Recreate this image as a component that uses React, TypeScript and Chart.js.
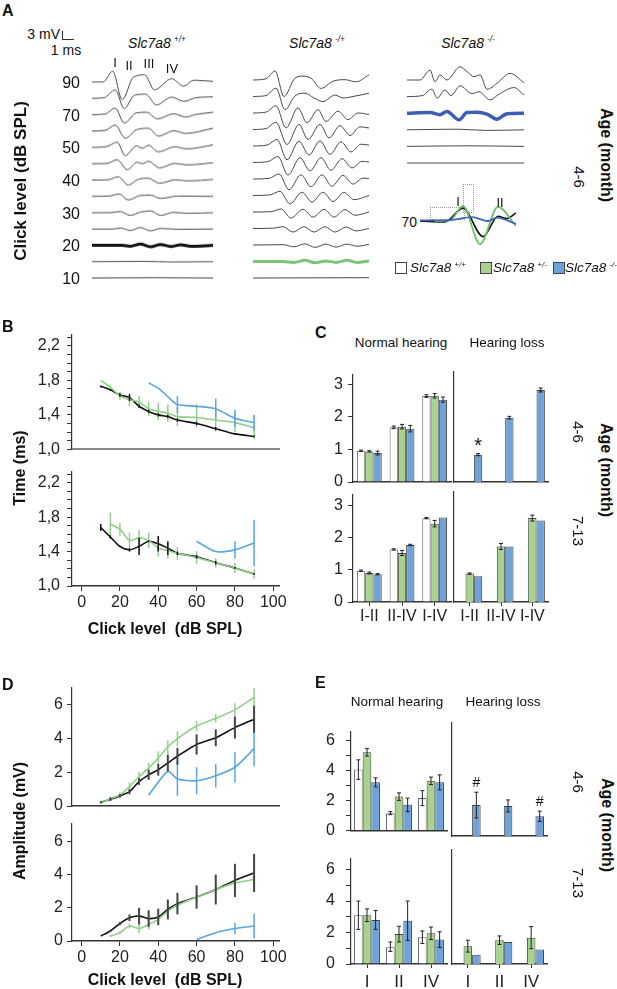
import React, { useEffect, useRef } from 'react';
import { Chart, registerables } from 'chart.js';
Chart.register(...registerables);

const FONT = '"Liberation Sans", Arial, Helvetica, sans-serif';

// ---------------- Panel A : ABR waveforms (time ms, amplitude mV) ----------------
const A_LEVELS_WT = [90, 80, 70, 60, 50, 45, 40, 35, 30, 25, 20, 15, 10];
const A_WAVES_WT = [
  [[0, 0], [1.1, 0], [2.05, 3.6], [3.0, -5.9], [4.1, 1.6], [5.2, 2.4], [6.2, -2.6], [7.9, 1.1], [9.1, -1.4], [10.1, 0.6], [12, 0.2]],
  [[0, 0], [1.2, 0.2], [2.3, 2.8], [3.2, -3.4], [4.2, 1.0], [5.3, 1.4], [6.4, -2.2], [7.9, 0.4], [9.1, -1.0], [10.3, 0.2], [12, 0.5]],
  [[0, 0], [1.3, 0.2], [2.3, 2.2], [3.2, -2.8], [4.4, 0.6], [5.4, 0.8], [6.5, -1.4], [8.1, 0.3], [9.3, -0.8], [10.2, 0], [12, 0.8]],
  [[0, 0], [1.3, 0.2], [2.3, 2.0], [3.3, -2.4], [4.4, 0.4], [5.6, 0.9], [6.6, -1.7], [8.1, 0.1], [9.3, -0.8], [12, 0.9]],
  [[0, 0], [1.4, 0.2], [2.5, 1.7], [3.3, -2.8], [4.4, 0.5], [5.0, -0.3], [5.6, 0.7], [6.6, -1.5], [8.2, 0.2], [9.4, -0.5], [12, 0.8]],
  [[0, 0], [1.5, 0.1], [2.5, 1.3], [3.5, -2.0], [4.5, 0.5], [5.0, 0], [5.6, 0.8], [6.7, -1.4], [8.2, 0.1], [9.4, -0.4], [12, 0.3]],
  [[0, 0], [1.6, 0.1], [2.6, 1.1], [3.6, -1.7], [4.6, 0.3], [5.6, 0.6], [6.7, -1.1], [8.3, 0.1], [9.5, -0.3], [12, 0.2]],
  [[0, 0], [1.7, 0.1], [2.7, 0.8], [3.6, -1.2], [4.8, 0.3], [5.8, 0.4], [6.8, -0.7], [8.5, 0.1], [12, 0]],
  [[0, 0], [1.8, 0], [2.8, 0.4], [3.8, -0.9], [4.8, 0.2], [5.8, 0.6], [6.8, -0.9], [8.1, 0.1], [9.5, -0.2], [12, 0]],
  [[0, 0], [2, 0], [2.9, 0.3], [3.8, -0.5], [4.8, 0.5], [5.8, -0.6], [6.8, 0.2], [8.5, -0.1], [12, 0]],
  [[0, 0], [3, 0], [3.8, -0.3], [4.8, 0.4], [5.8, -0.5], [6.8, 0.3], [7.8, -0.4], [8.8, 0.2], [9.8, -0.3], [12, 0]],
  [[0, 0], [5, 0.1], [8, -0.1], [12, 0]],
  [[0, 0], [6, 0.1], [12, 0]],
];
const A_THRESH_WT = 20;

const A_LEVELS_HET = [90, 80, 70, 60, 50, 45, 40, 35, 30, 25, 20, 15, 10];
const A_WAVES_HET = [
  [[0, 0], [1.3, 0.4], [2.2, 3.0], [3.1, -5.5], [4.2, 0.6], [5.0, 1.3], [5.8, 0.6], [6.8, -2.8], [8.0, -0.4], [9.2, 0.1], [10.3, -0.6], [11.6, 1.7]],
  [[0, 0], [1.3, 0.3], [2.3, 2.8], [3.2, -4.4], [4.2, 0.2], [5.2, 1.1], [6.1, -0.5], [7.0, -1.7], [8.2, 0.5], [9.0, -0.5], [10.0, 0], [11.6, 1.1]],
  [[0, 0], [1.3, 0.3], [2.3, 2.4], [3.3, -5.0], [4.5, 1.7], [5.4, -3.3], [6.5, 1.1], [7.3, -2.8], [8.5, 0.6], [9.5, -2.2], [10.5, 0], [11.6, -0.5]],
  [[0, 0], [1.3, 0.3], [2.3, 2.4], [3.4, -5.0], [4.6, 1.7], [5.5, -3.3], [6.7, 1.7], [7.6, -2.8], [8.7, 1.3], [9.7, -2.0], [10.7, 0.9], [11.6, 0.5]],
  [[0, 0], [1.4, 0.3], [2.4, 2.2], [3.4, -4.6], [4.6, 1.6], [5.6, -3.0], [6.7, 1.7], [7.7, -2.8], [8.8, 1.4], [9.8, -2.0], [10.8, 0.6], [11.6, 0.3]],
  [[0, 0], [1.5, 0.3], [2.5, 2.0], [3.5, -4.2], [4.7, 1.6], [5.7, -2.8], [6.8, 1.6], [7.8, -2.6], [8.9, 1.3], [9.9, -1.8], [10.9, 0.4], [11.6, 0.2]],
  [[0, 0], [1.6, 0.2], [2.6, 1.7], [3.6, -3.6], [4.8, 1.4], [5.8, -2.6], [6.9, 1.4], [7.9, -2.4], [9.0, 1.2], [10.0, -1.7], [11.0, 0.3], [11.6, 0.1]],
  [[0, 0], [1.7, 0.2], [2.7, 1.4], [3.7, -2.8], [4.9, 1.1], [5.9, -2.2], [7.0, 1.1], [8.0, -2.0], [9.1, 1.0], [10.1, -1.4], [11.6, 0]],
  [[0, 0], [1.8, 0.1], [2.8, 1.0], [3.8, -2.0], [5.0, 0.9], [6.0, -1.7], [7.1, 0.9], [8.1, -1.7], [9.2, 0.8], [10.2, -1.1], [11.6, 0]],
  [[0, 0], [2, 0.1], [3, 0.6], [4, -1.2], [5.1, 0.6], [6.1, -1.2], [7.2, 0.6], [8.2, -1.2], [9.3, 0.5], [10.3, -0.8], [11.6, 0]],
  [[0, 0], [3, 0.1], [4.1, -0.6], [5.2, 0.4], [6.2, -0.8], [7.3, 0.3], [8.3, -0.7], [9.4, 0.3], [10.4, -0.4], [11.6, 0.2]],
  [[0, 0], [3, 0], [4.1, -0.3], [5.2, 0.4], [6.2, -0.4], [7.3, 0.2], [8.3, -0.3], [9.4, 0.4], [10.4, -0.3], [11.6, 0.2]],
  [[0, 0], [11.6, 0.1]],
];
const A_THRESH_HET = 15;

const A_LEVELS_KO = [90, 80, 70, 60, 50, 45];
const A_WAVES_KO = [
  [[0, 0], [1.3, 0], [2.3, 3.3], [2.8, -0.6], [3.3, 1.7], [4.0, 0], [5.3, 4.4], [6.0, 2.8], [6.7, 1.1], [7.3, 1.7], [8.0, -3.1], [9.0, -1.1], [10.3, 2.2], [11.7, -0.9]],
  [[0, 0], [1.5, 0.3], [2.5, 2.5], [3.0, -0.5], [3.8, 2.2], [4.4, 0.3], [5.3, 3.6], [6.5, 1.0], [7.2, 1.6], [8.3, -1.1], [9.2, 0.8], [10.7, 3.0], [11.7, 0.5]],
  [[0, 0], [2.3, 0.2], [3.3, -0.5], [4.0, 0.6], [5.2, -2.2], [6.0, 0.2], [7.0, 0.3], [8.0, -0.3], [9.0, -2.0], [10.0, -0.2], [11.7, 0]],
  [[0, 0], [5, 0.2], [8, -0.2], [11.7, 0]],
  [[0, 0], [6, 0.2], [11.7, 0]],
  [[0, 0], [11.7, 0]],
];
const A_THRESH_KO = 70;

const A_LABEL_LEVELS = [90, 70, 50, 40, 30, 20, 10];
const A_INSET_LEVEL_LABEL = '70';

// inset, 70 dB SPL overlay
const A_INSET_WT = [[0, 0], [2.5, -0.3], [4.3, 4.3], [6.3, -5.2], [7.8, 1.6], [8.7, 0.8], [9.6, 2.7]];
const A_INSET_HET = [[1.5, 0], [3, 0.2], [4.3, 5.0], [6.0, -7.7], [7.8, 4.7], [9.6, -1.7]];
const A_INSET_KO = [[0, 0.2], [3, 0.3], [5.2, 1.3], [6.8, 0], [7.7, 1.1], [9.6, -1.0]];

// ---------------- Panel B : latency (ms) vs click level ----------------
const LEVELS_ALL = [10, 15, 20, 25, 30, 35, 40, 45, 50, 60, 70, 80, 90];
const LEVELS_FROM15 = [15, 20, 25, 30, 35, 40, 45, 50, 60, 70, 80, 90];
const B1_WT = [1.73, 1.69, 1.63, 1.6, 1.5, 1.44, 1.4, 1.38, 1.34, 1.3, 1.24, 1.18, 1.15];
const B1_WT_ERR = [0.01, 0.01, 0.02, 0.04, 0.02, 0.02, 0.02, 0.02, 0.02, 0.02, 0.02, 0.01, 0.01];
const B1_HET = [1.8, 1.72, 1.62, 1.575, 1.55, 1.47, 1.44, 1.42, 1.38, 1.37, 1.34, 1.31, 1.25];
const B1_HET_ERR = [0, 0.03, 0.045, 0.075, 0.07, 0.085, 0.1, 0.1, 0.11, 0.11, 0.12, 0.11, 0.13];
const B1_KO_LEVELS = [35, 40, 45, 50, 60, 70, 80, 90];
const B1_KO = [1.77, 1.71, 1.61, 1.52, 1.5, 1.47, 1.36, 1.31];
const B1_KO_ERR = [0, 0, 0, 0.1, 0.02, 0.12, 0.1, 0.09];

const B2_WT = [1.68, 1.57, 1.46, 1.42, 1.46, 1.52, 1.49, 1.44, 1.38, 1.34, 1.27, 1.21, 1.14];
const B2_WT_ERR = [0.04, 0.02, 0.01, 0.02, 0.1, 0.01, 0.09, 0.08, 0.02, 0.02, 0.02, 0.01, 0.01];
const B2_HET = [1.72, 1.66, 1.53, 1.56, 1.53, 1.44, 1.41, 1.38, 1.33, 1.27, 1.21, 1.14];
const B2_HET_ERR = [0.13, 0.075, 0.09, 0.09, 0.09, 0.1, 0.09, 0.075, 0.075, 0.055, 0.06, 0.055];
const B2_KO_LEVELS = [60, 70, 80, 90];
const B2_KO = [1.52, 1.4, 1.42, 1.5];
const B2_KO_ERR = [0, 0, 0.1, 0.27];

const B_Y_LABELS = [1.0, 1.4, 1.8, 2.2];
const X_TICKS = [0, 20, 40, 60, 80, 100];

// ---------------- Panel D : amplitude (mV) vs click level ----------------
const D1_WT = [0.22, 0.4, 0.6, 0.85, 1.45, 1.85, 2.15, 2.55, 2.95, 3.65, 4.05, 4.65, 5.15];
const D1_WT_ERR = [0.05, 0.1, 0.1, 0.15, 0.2, 0.3, 0.35, 0.5, 0.5, 0.6, 0.5, 0.65, 0.8];
const D1_HET = [0.15, 0.45, 0.65, 1.15, 1.75, 2.25, 2.85, 3.5, 4.0, 4.75, 5.2, 5.7, 6.45];
const D1_HET_ERR = [0.05, 0.1, 0.15, 0.25, 0.28, 0.3, 0.4, 0.4, 0.45, 0.3, 0.25, 0.4, 0.55];
const D1_KO_LEVELS = [35, 45, 50, 60, 70, 80, 90];
const D1_KO = [0.65, 2.05, 1.6, 1.5, 1.8, 2.3, 3.4];
const D1_KO_ERR = [0, 0, 1.0, 0.8, 0.7, 0.9, 1.05];

const D2_WT = [0.3, 0.6, 1.05, 1.4, 1.5, 1.35, 1.45, 1.9, 2.25, 2.65, 3.1, 3.65, 4.1];
const D2_WT_ERR = [0, 0.05, 0.1, 0.2, 0.5, 0.5, 0.5, 0.6, 0.65, 0.7, 0.9, 1.0, 1.15];
const D2_HET = [0.3, 0.5, 0.9, 0.75, 1.0, 1.3, 1.8, 2.15, 2.65, 3.1, 3.5, 3.7];
const D2_HET_ERR = [0.05, 0.1, 0.15, 0.3, 0.3, 0.3, 0.35, 0.3, 0.3, 0.3, 0.4, 0.45];
const D2_KO_LEVELS = [60, 70, 80, 90];
const D2_KO = [0.1, 0.5, 0.75, 0.9];
const D2_KO_ERR = [0, 0, 0.35, 0.75];

const D_Y_LABELS = [0, 2, 4, 6];

// ---------------- Panel C : interpeak latencies (ms) ----------------
const C_GROUPS = ['I-II', 'II-IV', 'I-IV'];
const C1N_WT = [0.96, 1.68, 2.64];
const C1N_WT_ERR = [0.02, 0.04, 0.04];
const C1N_HET = [0.94, 1.7, 2.65];
const C1N_HET_ERR = [0.02, 0.07, 0.07];
const C1N_KO = [0.89, 1.64, 2.53];
const C1N_KO_ERR = [0.06, 0.1, 0.08];
const C1L_KO = [0.82, 1.93, 2.76];
const C1L_KO_ERR = [0.03, 0.04, 0.06];
const C1L_MARKS = ['*', '', ''];
const C2N_WT = [0.97, 1.63, 2.6];
const C2N_WT_ERR = [0.02, 0.02, 0.02];
const C2N_HET = [0.9, 1.52, 2.43];
const C2N_HET_ERR = [0.03, 0.08, 0.1];
const C2N_KO = [0.86, 1.77, 2.62];
const C2N_KO_ERR = [0.02, 0.02, 0];
const C2L_HET = [0.86, 1.68, 2.54];
const C2L_HET_ERR = [0.02, 0.09, 0.09];
const C2L_KO = [0.78, 1.68, 2.47];
const C_Y_LABELS = [0, 1, 2, 3];

// ---------------- Panel E : peak amplitudes (mV) ----------------
const E_GROUPS = ['I', 'II', 'IV'];
const E1N_WT = [4.05, 1.15, 2.15];
const E1N_WT_ERR = [0.65, 0.1, 0.5];
const E1N_HET = [5.2, 2.25, 3.3];
const E1N_HET_ERR = [0.25, 0.25, 0.25];
const E1N_KO = [3.2, 1.7, 3.2];
const E1N_KO_ERR = [0.3, 0.45, 0.5];
const E1L_KO = [1.8, 1.75, 1.15];
const E1L_KO_ERR = [0.75, 0.35, 0.3];
const E1L_MARKS = ['#', '', '#'];
const E2N_WT = [3.1, 1.1, 1.7];
const E2N_WT_ERR = [0.9, 0.3, 0.4];
const E2N_HET = [3.1, 1.9, 1.95];
const E2N_HET_ERR = [0.4, 0.5, 0.4];
const E2N_KO = [2.8, 2.75, 1.55];
const E2N_KO_ERR = [0.6, 1.25, 0.5];
const E2L_HET = [1.05, 1.4, 1.55];
const E2L_HET_ERR = [0.35, 0.25, 0.65];
const E2L_KO = [0.55, 1.3, 0.85];
const E_Y_TICKS = [0, 1, 2, 3, 4, 5, 6];
const E_Y_LABELS = [0, 2, 4, 6];

// ---------------- styling ----------------
const LINE_WT = '#111111';
const LINE_HET = '#93cf8c';
const LINE_KO = '#5aa6e0';
const BAR_WT = '#ffffff';
const BAR_HET = '#a7d38e';
const BAR_KO = '#6ea2d9';
const AXIS = '#333333';
const PX_PER_MV = 3;

// ---------------- plugin: error bars & marks ----------------
const errorBarPlugin = {
  id: 'errbars',
  afterDatasetsDraw(chart: any) {
    const ctx = chart.ctx;
    chart.data.datasets.forEach((ds: any, di: number) => {
      if (!ds.errs && !ds.marks) return;
      const meta = chart.getDatasetMeta(di);
      const ys = chart.scales[meta.yAxisID];
      ctx.save();
      meta.data.forEach((el: any, i: number) => {
        const raw = ds.data[i];
        const v = raw == null ? null : typeof raw === 'number' ? raw : raw.y;
        if (v == null) return;
        const e = ds.errs ? ds.errs[i] || 0 : 0;
        const x = el.x;
        const y1 = ys.getPixelForValue(v + e);
        const y2 = ys.getPixelForValue(v - e);
        if (e > 0) {
          ctx.strokeStyle = ds.errColor;
          ctx.lineWidth = ds.errWidth;
          ctx.beginPath();
          ctx.moveTo(x, y1);
          ctx.lineTo(x, y2);
          if (ds.errCap) {
            ctx.moveTo(x - ds.errCap, y1);
            ctx.lineTo(x + ds.errCap, y1);
            ctx.moveTo(x - ds.errCap, y2);
            ctx.lineTo(x + ds.errCap, y2);
          }
          ctx.stroke();
        }
        const m = ds.marks ? ds.marks[i] : '';
        if (m) {
          ctx.fillStyle = '#111';
          ctx.font = (m === '*' ? '20px ' : '14px ') + FONT;
          ctx.textAlign = 'center';
          ctx.textBaseline = 'bottom';
          ctx.fillText(m, x, y1 - (m === '*' ? -3 : 2));
        }
      });
      ctx.restore();
    });
  },
};

type Box = { l: number; t: number; w: number; h: number };
type Rect = { l: number; t: number; r: number; b: number };

function frame(cv: Box, p: Rect) {
  return {
    padding: { left: 0, top: p.t - cv.t, right: cv.l + cv.w - p.r, bottom: 0 },
    yW: p.l - cv.l,
    xH: cv.t + cv.h - p.b,
  };
}

const baseOpts = {
  animation: false,
  responsive: false,
  events: [],
  plugins: { legend: { display: false }, tooltip: { enabled: false } },
};

// ---------- wave groups ----------
function waveConfig(cv: Box, levels: number[], waves: number[][][], thresh: number, thickColor: string, g: any) {
  const datasets = waves.map((w, i) => {
    const off = -(i * g.rowStep) / PX_PER_MV;
    const thick = levels[i] === thresh;
    return {
      data: w.map(([t, v]) => ({ x: t, y: v + off })),
      borderColor: thick ? thickColor : '#4a4a4a',
      borderWidth: thick ? g.thickW : 1,
      pointRadius: 0,
      cubicInterpolationMode: 'monotone',
      clip: false,
      fill: false,
    };
  });
  return {
    type: 'line',
    data: { datasets },
    options: {
      ...baseOpts,
      layout: { padding: 0 },
      scales: {
        x: { type: 'linear', display: false, min: 0, max: g.tMax },
        y: { display: false, min: -(cv.t + cv.h - g.row0) / PX_PER_MV, max: (g.row0 - cv.t) / PX_PER_MV },
      },
    },
  };
}

function insetConfig(cv: Box, base: number, tMax: number) {
  const mk = (d: number[][], c: string, w: number) => ({
    data: d.map(([t, v]) => ({ x: t, y: v })),
    borderColor: c,
    borderWidth: w,
    pointRadius: 0,
    cubicInterpolationMode: 'monotone',
    clip: false,
  });
  return {
    type: 'line',
    data: { datasets: [mk(A_INSET_KO, '#3f66b8', 1.8), mk(A_INSET_HET, '#72c06c', 1.8), mk(A_INSET_WT, '#111', 1.6)] },
    options: {
      ...baseOpts,
      layout: { padding: 0 },
      scales: {
        x: { type: 'linear', display: false, min: 0, max: tMax },
        y: { display: false, min: -(cv.t + cv.h - base) / PX_PER_MV, max: (base - cv.t) / PX_PER_MV },
      },
    },
  };
}

// ---------- line panels ----------
function lineConfig(cv: Box, p: Rect, o: any) {
  const f = frame(cv, p);
  const datasets = o.series.map((s: any) => ({
    data: s.x.map((x: number, i: number) => ({ x, y: s.y[i] })),
    errs: s.e,
    errColor: s.ec || s.c,
    errWidth: s.ew || 1.5,
    borderColor: s.c,
    borderWidth: 1.6,
    pointRadius: 0,
    tension: 0.25,
    fill: false,
  }));
  const tickFont = { family: FONT, size: 16 };
  return {
    type: 'line',
    data: { datasets },
    options: {
      ...baseOpts,
      layout: { padding: f.padding },
      scales: {
        x: {
          type: 'linear',
          min: -5,
          max: 103,
          afterFit: (s: any) => { s.height = f.xH; },
          afterBuildTicks: (s: any) => { s.ticks = (o.xTicks || []).map((v: number) => ({ value: v })); },
          grid: { drawOnChartArea: false, drawTicks: !!o.xTicks, tickLength: 5, color: AXIS },
          border: { color: o.xBorder, width: o.xBorderW },
          ticks: { display: !!o.xTicks, font: tickFont, color: '#222', padding: 2, maxRotation: 0, autoSkip: false },
        },
        y: {
          type: 'linear',
          min: o.yMin,
          max: o.yMax,
          afterFit: (s: any) => { s.width = f.yW; },
          afterBuildTicks: (s: any) => { s.ticks = o.yTicks.map((v: number) => ({ value: v })); },
          grid: { drawOnChartArea: false, tickLength: 5, color: AXIS },
          border: { color: AXIS, width: 1.2 },
          ticks: {
            font: tickFont,
            color: '#222',
            padding: o.yPad,
            autoSkip: false,
            callback: (v: number) => (o.yLabels.some((m: number) => Math.abs(m - v) < 1e-6) ? o.fmt(v) : ''),
          },
        },
      },
    },
    plugins: [errorBarPlugin],
  };
}

// ---------- bar panels ----------
function barConfig(cv: Box, p: Rect, o: any) {
  const f = frame(cv, p);
  const tickFont = { family: FONT, size: 16 };
  const datasets = o.series.map((s: any) => ({
    data: s.d,
    errs: s.e,
    marks: s.marks,
    errColor: '#222',
    errWidth: 1,
    errCap: 2,
    backgroundColor: s.bg,
    borderColor: s.bc,
    borderWidth: 1,
    categoryPercentage: o.cat,
    barPercentage: 1,
  }));
  return {
    type: 'bar',
    data: { labels: o.labels, datasets },
    options: {
      ...baseOpts,
      layout: { padding: f.padding },
      scales: {
        x: {
          type: 'category',
          offset: true,
          afterFit: (s: any) => { s.height = f.xH; },
          grid: { offset: false, drawOnChartArea: false, drawTicks: o.showX, tickLength: 4, color: AXIS },
          border: { color: AXIS, width: 1.5 },
          ticks: { display: o.showX, font: { family: FONT, size: o.xSize || 16 }, color: '#222', padding: o.xPad || 1, maxRotation: 0, autoSkip: false },
        },
        y: {
          type: 'linear',
          min: 0,
          max: o.yMax,
          afterFit: (s: any) => { s.width = f.yW; },
          afterBuildTicks: (s: any) => { s.ticks = (o.showY ? o.yTicks : []).map((v: number) => ({ value: v })); },
          grid: { display: o.showY, drawOnChartArea: false, tickLength: 5, color: AXIS },
          border: { color: AXIS, width: 1.2 },
          ticks: {
            display: o.showY,
            font: tickFont,
            color: '#222',
            padding: o.yPad,
            autoSkip: false,
            callback: (v: number) => (o.yLabels.includes(v) ? String(v) : ''),
          },
        },
      },
    },
    plugins: [errorBarPlugin],
  };
}

function ChartBox({ cv, build }: { cv: Box; build: () => any }) {
  const ref = useRef<HTMLCanvasElement>(null);
  useEffect(() => {
    const c = new Chart(ref.current as HTMLCanvasElement, build());
    return () => c.destroy();
  }, []);
  return (
    <canvas
      ref={ref}
      width={cv.w}
      height={cv.h}
      style={{ position: 'absolute', left: cv.l, top: cv.t, width: cv.w, height: cv.h }}
    />
  );
}

function Txt({ x, y, children, size = 16, bold = false, italic = false, anchor = 'c', rot = 0, color = '#111' }: any) {
  const tx = anchor === 'l' ? '0' : anchor === 'r' ? '-100%' : '-50%';
  return (
    <div
      style={{
        position: 'absolute',
        left: x,
        top: y,
        transform: `translate(${tx},-50%)${rot ? ` rotate(${rot}deg)` : ''}`,
        fontSize: size,
        fontWeight: bold ? 700 : 400,
        fontStyle: italic ? 'italic' : 'normal',
        whiteSpace: 'nowrap',
        lineHeight: 1,
        color,
        zIndex: 2,
      }}
    >
      {children}
    </div>
  );
}

function Geno({ x, y, g, size = 14, anchor = 'c' }: any) {
  return (
    <Txt x={x} y={y} size={size} italic anchor={anchor}>
      Slc7a8
      <span style={{ fontSize: size * 0.6, position: 'relative', top: -size * 0.4, marginLeft: 3 }}>{g}</span>
    </Txt>
  );
}

const fmtComma = (v: number) => v.toFixed(1).replace('.', ',');

export default function App() {
  const gWT = { x0: 92, x1: 213, tMax: 12, row0: 82, rowStep: 16.33, thickW: 3 };
  const gHET = { x0: 253, x1: 369, tMax: 11.6, row0: 80, rowStep: 16.5, thickW: 3 };
  const gKO = { x0: 407, x1: 524, tMax: 11.7, row0: 80, rowStep: 16.6, thickW: 3.5 };
  const waveBox = (g: any, n: number): Box => ({ l: g.x0, t: g.row0 - 25, w: g.x1 - g.x0, h: (n - 1) * g.rowStep + 40 });
  const cvWT = waveBox(gWT, A_WAVES_WT.length);
  const cvHET = waveBox(gHET, A_WAVES_HET.length);
  const cvKO = waveBox(gKO, A_WAVES_KO.length);
  const cvInset: Box = { l: 420, t: 195, w: 96, h: 55 };

  const bMinor: number[] = [];
  for (let i = 0; i <= 13; i++) bMinor.push(Math.round((1 + i * 0.1) * 10) / 10);

  const bSeries1 = [
    { x: LEVELS_ALL, y: B1_HET, e: B1_HET_ERR, c: LINE_HET },
    { x: B1_KO_LEVELS, y: B1_KO, e: B1_KO_ERR, c: LINE_KO },
    { x: LEVELS_ALL, y: B1_WT, e: B1_WT_ERR, c: LINE_WT },
  ];
  const bSeries2 = [
    { x: LEVELS_FROM15, y: B2_HET, e: B2_HET_ERR, c: LINE_HET },
    { x: B2_KO_LEVELS, y: B2_KO, e: B2_KO_ERR, c: LINE_KO },
    { x: LEVELS_ALL, y: B2_WT, e: B2_WT_ERR, c: LINE_WT },
  ];
  const dSeries1 = [
    { x: LEVELS_ALL, y: D1_HET, e: D1_HET_ERR, c: LINE_HET },
    { x: D1_KO_LEVELS, y: D1_KO, e: D1_KO_ERR, c: LINE_KO },
    { x: LEVELS_ALL, y: D1_WT, e: D1_WT_ERR, c: LINE_WT, ec: '#444', ew: 2 },
  ];
  const dSeries2 = [
    { x: LEVELS_FROM15, y: D2_HET, e: D2_HET_ERR, c: LINE_HET },
    { x: D2_KO_LEVELS, y: D2_KO, e: D2_KO_ERR, c: LINE_KO },
    { x: LEVELS_ALL, y: D2_WT, e: D2_WT_ERR, c: LINE_WT, ec: '#444', ew: 2 },
  ];

  const cvB1: Box = { l: 0, t: 318, w: 300, h: 148 };
  const cvB2: Box = { l: 0, t: 455, w: 300, h: 165 };
  const cvD1: Box = { l: 0, t: 674, w: 300, h: 148 };
  const cvD2: Box = { l: 0, t: 810, w: 300, h: 170 };

  const bOpts = (series: any, xTicks: any, xBorder: string, xBorderW: number, yMax: number) => ({
    series, xTicks, xBorder, xBorderW, yMin: 1.0, yMax, yTicks: bMinor, yLabels: B_Y_LABELS, fmt: fmtComma, yPad: 7,
  });
  const dOpts = (series: any, xTicks: any, yMax: number) => ({
    series, xTicks, xBorder: AXIS, xBorderW: 1.5, yMin: 0, yMax, yTicks: D_Y_LABELS, yLabels: D_Y_LABELS, fmt: (v: number) => String(v), yPad: 4,
  });

  const W = (d: any, e: any) => ({ d, e, bg: BAR_WT, bc: '#666' });
  const G = (d: any, e: any) => ({ d, e, bg: BAR_HET, bc: '#444' });
  const B = (d: any, e: any, marks?: any) => ({ d, e, marks, bg: BAR_KO, bc: '#444' });
  const nul = [null, null, null];

  const cvC1L: Box = { l: 318, t: 360, w: 136, h: 137 };
  const cvC1R: Box = { l: 440, t: 360, w: 115, h: 137 };
  const cvC2L: Box = { l: 318, t: 480, w: 136, h: 150 };
  const cvC2R: Box = { l: 440, t: 480, w: 115, h: 150 };
  const cvE1L: Box = { l: 318, t: 711, w: 132, h: 140 };
  const cvE1R: Box = { l: 438, t: 711, w: 117, h: 140 };
  const cvE2L: Box = { l: 318, t: 838, w: 132, h: 151 };
  const cvE2R: Box = { l: 438, t: 838, w: 117, h: 151 };

  const cOpts = (series: any, showY: boolean, showX: boolean, yMax: number, cat: number) => ({
    series, showY, showX, yMax, cat, labels: C_GROUPS, yTicks: C_Y_LABELS, yLabels: C_Y_LABELS, yPad: 5, xPad: 1, xSize: 16,
  });
  const eOpts = (series: any, showY: boolean, showX: boolean, yMax: number, cat: number) => ({
    series, showY, showX, yMax, cat, labels: E_GROUPS, yTicks: E_Y_TICKS, yLabels: E_Y_LABELS, yPad: 11, xPad: 4, xSize: 17,
  });

  const rowY = (g: any, lvl: number) => g.row0 + A_LEVELS_WT.indexOf(lvl) * g.rowStep + 1;

  return (
    <div
      style={{
        position: 'absolute',
        left: 0,
        top: 0,
        width: 617,
        height: 989,
        background: '#fff',
        overflow: 'hidden',
        fontFamily: FONT,
        color: '#111',
      }}
    >
      {/* ---------- Panel A ---------- */}
      <Txt x={2} y={11} size={16} bold anchor="l">A</Txt>
      <Txt x={60} y={34} size={14} anchor="r">3 mV</Txt>
      <div style={{ position: 'absolute', left: 62, top: 31, width: 11, height: 8, borderLeft: '1px solid #333', borderBottom: '1px solid #333' }} />
      <Txt x={66} y={50} size={14}>1 ms</Txt>
      <Geno x={157} y={43} g="+/+" />
      <Geno x={317} y={43} g="-/+" />
      <Geno x={468} y={43} g="-/-" />
      <Txt x={115} y={62} size={13}>I</Txt>
      <Txt x={129} y={65} size={13}>II</Txt>
      <Txt x={149} y={63} size={13}>III</Txt>
      <Txt x={172} y={68} size={13}>IV</Txt>
      {A_LABEL_LEVELS.map((lvl) => (
        <Txt key={lvl} x={80} y={rowY(gWT, lvl)} size={16} anchor="r">{lvl}</Txt>
      ))}
      <Txt x={20} y={181} size={17} bold rot={-90}>Click level (dB SPL)</Txt>
      <Txt x={606} y={155} size={16} bold rot={90}>Age (month)</Txt>
      <Txt x={579} y={177} size={15} rot={90}>4-6</Txt>

      <ChartBox cv={cvWT} build={() => waveConfig(cvWT, A_LEVELS_WT, A_WAVES_WT, A_THRESH_WT, '#111', gWT)} />
      <ChartBox cv={cvHET} build={() => waveConfig(cvHET, A_LEVELS_HET, A_WAVES_HET, A_THRESH_HET, '#7cc47a', gHET)} />
      <ChartBox cv={cvKO} build={() => waveConfig(cvKO, A_LEVELS_KO, A_WAVES_KO, A_THRESH_KO, '#3d5fb2', gKO)} />

      {/* inset */}
      <div style={{ position: 'absolute', left: 430, top: 207, width: 35, height: 13, border: '1px dotted #999', boxSizing: 'border-box' }} />
      <div style={{ position: 'absolute', left: 463, top: 184, width: 11, height: 29, border: '1px dotted #999', boxSizing: 'border-box' }} />
      <Txt x={417} y={222} size={14} anchor="r">{A_INSET_LEVEL_LABEL}</Txt>
      <Txt x={458} y={201} size={13}>I</Txt>
      <Txt x={500} y={202} size={13}>II</Txt>
      <ChartBox cv={cvInset} build={() => insetConfig(cvInset, 221, 9.6)} />

      {/* legend */}
      <div style={{ position: 'absolute', left: 395, top: 262, width: 10, height: 10, border: '1px solid #444', background: BAR_WT }} />
      <Geno x={410} y={268} g="+/+" size={13.5} anchor="l" />
      <div style={{ position: 'absolute', left: 480, top: 262, width: 10, height: 10, border: '1px solid #444', background: BAR_HET }} />
      <Geno x={493} y={268} g="+/-" size={13.5} anchor="l" />
      <div style={{ position: 'absolute', left: 553, top: 262, width: 10, height: 10, border: '1px solid #444', background: BAR_KO }} />
      <Geno x={565} y={268} g="-/-" size={13.5} anchor="l" />

      {/* ---------- Panel B ---------- */}
      <Txt x={2} y={327} size={16} bold anchor="l">B</Txt>
      <Txt x={20} y={468} size={16} bold rot={-90}>Time (ms)</Txt>
      <ChartBox cv={cvB1} build={() => lineConfig(cvB1, { l: 72, t: 332, r: 279, b: 451 }, bOpts(bSeries1, null, '#8a8a8a', 2, 2.33))} />
      <ChartBox cv={cvB2} build={() => lineConfig(cvB2, { l: 72, t: 467, r: 279, b: 586 }, bOpts(bSeries2, X_TICKS, AXIS, 1.5, 2.33))} />
      <Txt x={165} y={629} size={16} bold>Click level&nbsp; (dB SPL)</Txt>

      {/* ---------- Panel C ---------- */}
      <Txt x={315} y={333} size={16} bold anchor="l">C</Txt>
      <Txt x={401} y={343} size={13.5}>Normal hearing</Txt>
      <Txt x={507} y={343} size={13.5}>Hearing loss</Txt>
      <Txt x={606} y={470} size={16} bold rot={90}>Age (month)</Txt>
      <Txt x={578} y={432} size={15} rot={90}>4-6</Txt>
      <Txt x={578} y={531} size={15} rot={90}>7-13</Txt>
      <ChartBox cv={cvC1L} build={() => barConfig(cvC1L, { l: 353, t: 372, r: 451, b: 482 }, cOpts([W(C1N_WT, C1N_WT_ERR), G(C1N_HET, C1N_HET_ERR), B(C1N_KO, C1N_KO_ERR)], true, false, 3.3, 0.76))} />
      <ChartBox cv={cvC1R} build={() => barConfig(cvC1R, { l: 454, t: 372, r: 548, b: 482 }, cOpts([W(nul, []), G(nul, []), B(C1L_KO, C1L_KO_ERR, C1L_MARKS)], false, false, 3.3, 0.8))} />
      <ChartBox cv={cvC2L} build={() => barConfig(cvC2L, { l: 353, t: 492, r: 451, b: 602 }, cOpts([W(C2N_WT, C2N_WT_ERR), G(C2N_HET, C2N_HET_ERR), B(C2N_KO, C2N_KO_ERR)], true, true, 3.33, 0.76))} />
      <ChartBox cv={cvC2R} build={() => barConfig(cvC2R, { l: 454, t: 492, r: 548, b: 602 }, cOpts([W(nul, []), G(C2L_HET, C2L_HET_ERR), B(C2L_KO, [])], false, true, 3.33, 0.8))} />

      {/* ---------- Panel D ---------- */}
      <Txt x={2} y={685} size={16} bold anchor="l">D</Txt>
      <Txt x={20} y={821} size={16} bold rot={-90}>Amplitude (mV)</Txt>
      <ChartBox cv={cvD1} build={() => lineConfig(cvD1, { l: 72, t: 688, r: 279, b: 806 }, dOpts(dSeries1, null, 7.0))} />
      <ChartBox cv={cvD2} build={() => lineConfig(cvD2, { l: 72, t: 822, r: 279, b: 941 }, dOpts(dSeries2, X_TICKS, 7.07))} />
      <Txt x={165} y={980} size={16} bold>Click level&nbsp; (dB SPL)</Txt>

      {/* ---------- Panel E ---------- */}
      <Txt x={315} y={683} size={16} bold anchor="l">E</Txt>
      <Txt x={397} y={702} size={13.5}>Normal hearing</Txt>
      <Txt x={503} y={702} size={13.5}>Hearing loss</Txt>
      <Txt x={607} y={825} size={16} bold rot={90}>Age (month)</Txt>
      <Txt x={578} y={782} size={15} rot={90}>4-6</Txt>
      <Txt x={578} y={883} size={15} rot={90}>7-13</Txt>
      <ChartBox cv={cvE1L} build={() => barConfig(cvE1L, { l: 351, t: 723, r: 447, b: 836 }, eOpts([W(E1N_WT, E1N_WT_ERR), G(E1N_HET, E1N_HET_ERR), B(E1N_KO, E1N_KO_ERR)], true, false, 6.58, 0.81))} />
      <ChartBox cv={cvE1R} build={() => barConfig(cvE1R, { l: 452, t: 723, r: 547, b: 836 }, eOpts([W(nul, []), G(nul, []), B(E1L_KO, E1L_KO_ERR, E1L_MARKS)], false, false, 6.58, 0.81))} />
      <ChartBox cv={cvE2L} build={() => barConfig(cvE2L, { l: 351, t: 850, r: 447, b: 964 }, eOpts([W(E2N_WT, E2N_WT_ERR), G(E2N_HET, E2N_HET_ERR), B(E2N_KO, E2N_KO_ERR)], true, true, 6.7, 0.81))} />
      <ChartBox cv={cvE2R} build={() => barConfig(cvE2R, { l: 452, t: 850, r: 547, b: 964 }, eOpts([W(nul, []), G(E2L_HET, E2L_HET_ERR), B(E2L_KO, [])], false, true, 6.7, 0.81))} />
    </div>
  );
}
